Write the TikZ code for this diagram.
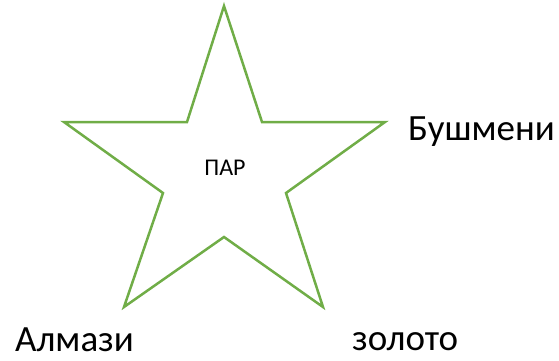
\documentclass[tikz,border=0pt]{standalone}
\usepackage{fontspec}
\setmainfont{Carlito}
\definecolor{stargreen}{HTML}{70AD47}
\begin{document}
\begin{tikzpicture}[x=1pt,y=-1pt,
  starline/.style={draw=stargreen,line width=2.5pt,line join=miter},
  label/.style={font=\fontsize{37}{42}\selectfont,inner sep=0pt,anchor=base west},
  center/.style={font=\fontsize{24}{28}\selectfont,inner sep=0pt,anchor=base}]
\useasboundingbox (0,0) rectangle (559,360);
\coordinate (p1) at (224,6);
\coordinate (p2) at (262,122);
\coordinate (p3) at (385,122);
\coordinate (p4) at (286,193);
\coordinate (p5) at (323,307);
\coordinate (p6) at (224,237);
\coordinate (p7) at (124,307);
\coordinate (p8) at (163,193);
\coordinate (p9) at (64,122);
\coordinate (p10) at (187,122);
\draw[starline] (p1) -- (p2) -- (p3) -- (p4) -- (p5) -- (p6) -- (p7) -- (p8) -- (p9) -- (p10) -- cycle;
\node[center] (par) at (225,175) {ПАР};
\node[label] (bush) at (408,140) {Бушмени};
\node[label] (alm) at (15,351) {Алмази};
\node[label] (zol) at (352,350) {золото};
\end{tikzpicture}
\end{document}
